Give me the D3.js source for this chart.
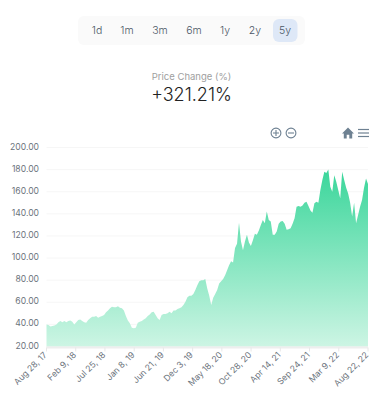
<!DOCTYPE html>
<html><head><meta charset="utf-8">
<script src="https://cdn.jsdelivr.net/npm/d3@7"></script>
<style>html,body{margin:0;padding:0;background:#fff}svg{display:block}text{font-family:Inter,"Noto Sans",sans-serif}</style>
</head><body><div id="chart"></div>
<script>
const ranges = ["1d","1m","3m","6m","1y","2y","5y"];
const activeRange = "5y";
const yTicks = [20,40,60,80,100,120,140,160,180,200];
const tickLabels = ["Aug 28, 17","Feb 9, 18","Jul 25, 18","Jan 8, 19","Jun 21, 19","Dec 3, 19","May 18, 20","Oct 28, 20","Apr 14, 21","Sep 24, 21","Mar 9, 22","Aug 22, 22"];
const prices = [40,39.5,38,38.5,39,40,42,43,42,43,42,43,43.5,42.5,40,42,44,44.5,43,42,41.5,44,45.5,47,47,47.5,46,47,47.5,48.5,51,52.5,54.5,56,55.5,55.5,56.5,55,54.5,52.5,47.5,43.5,41,37,36.5,37,41.5,42.5,43,44.5,45.5,47.5,49,51,51.5,48.5,45.5,44,48.5,49.5,49.5,50,51.5,50,52.5,52.5,54,54.5,55.5,57.5,60.5,64.5,66,66,67.5,71,75.5,79,80,80,81,72.5,66,57.5,64,67.5,71,77,79,81,84.5,89,93.5,97,96,109,113,132,115,107,115,121,114,111,116,122,121,125,130,134.5,131.5,142,134.5,133,121,121,124,131,133,133.5,131,125.5,126,127,131,136,146.5,147,146.5,147.5,150,151,147,143,141,149.5,151,150,161.5,170.5,178,177,180,164.5,160,175,169,161.5,154,178,170.5,163.5,158.5,150,137.5,150,131.5,139,146.5,152.5,163.5,172,167];

const W=383,H=398;
const m={l:46.5,r:368,t:147.5,b:346.5};
const svg=d3.select("#chart").append("svg").attr("width",W).attr("height",H);
const defs=svg.append("defs");
const grad=defs.append("linearGradient").attr("id","g").attr("gradientUnits","userSpaceOnUse").attr("x1",0).attr("x2",0).attr("y1",170).attr("y2",347);
grad.append("stop").attr("offset",0).attr("stop-color","#3bd69b");
grad.append("stop").attr("offset",1).attr("stop-color","#cdf5e4");

// range selector
svg.append("rect").attr("x",78).attr("y",16).attr("width",227).attr("height",29).attr("rx",6).attr("fill","#fafafa");
const btnX=d3.scaleOrdinal().domain(ranges).range([97,127,160,194,225,255,285]);
svg.append("rect").attr("x",273).attr("y",19).attr("width",24.5).attr("height",23).attr("rx",6).attr("fill","#dee8f7");
svg.selectAll("text.btn").data(ranges).join("text").attr("class","btn")
  .attr("x",d=>btnX(d)).attr("y",33.5).attr("text-anchor","middle").attr("font-size",10.5).attr("font-weight",300).attr("fill","#4a5665").text(d=>d);

svg.append("text").attr("x",191.5).attr("y",79.5).attr("text-anchor","middle").attr("font-size",9.5).attr("fill","#a0a0a0").text("Price Change (%)");
svg.append("text").attr("x",191.5).attr("y",101).attr("text-anchor","middle").attr("font-size",18).attr("font-weight",300).attr("fill","#222").text("+321.21%");

const x=d3.scaleLinear().domain([0,prices.length-1]).range([m.l,m.r]);
const y=d3.scaleLinear().domain([20,200]).range([m.b,m.t]);
const xTick=d3.scalePoint().domain(tickLabels).range([m.l,m.r]);

// grid
svg.append("g").selectAll("line").data(yTicks).join("line")
  .attr("x1",m.l).attr("x2",m.r).attr("y1",d=>y(d)).attr("y2",d=>y(d)).attr("stroke","#f6f6f6");

// area
svg.append("path").datum(prices).attr("fill","url(#g)")
  .attr("d",d3.area().x((d,i)=>x(i)).y0(y(20)).y1(d=>y(d)));

// y labels
svg.append("g").selectAll("text").data(yTicks).join("text")
  .attr("x",39).attr("y",d=>y(d)+2).attr("text-anchor","end").attr("font-size",8.6).attr("fill","#6b737c").text(d=>d.toFixed(2));

// x axis
const ax=svg.append("g").attr("transform",`translate(0,${m.b+1})`);
ax.append("line").attr("x1",m.l).attr("x2",m.r).attr("stroke","#eeeeee").attr("stroke-width",2);
ax.selectAll("line.t").data(tickLabels).join("line").attr("class","t")
  .attr("x1",d=>xTick(d)).attr("x2",d=>xTick(d)).attr("y1",0).attr("y2",4).attr("stroke","#e8e8e8");
ax.selectAll("text").data(tickLabels).join("text")
  .attr("text-anchor","end").attr("font-size",8.6).attr("fill","#6b737c")
  .attr("transform",d=>`translate(${xTick(d)+1},${8}) rotate(-45)`).text(d=>d);

// toolbar
const ic="#6e8192";
const tb=svg.append("g").attr("fill","none").attr("stroke",ic).attr("stroke-width",1.1);
tb.append("circle").attr("cx",276).attr("cy",133).attr("r",4.9);
tb.append("path").attr("d","M273 133H279M276 130V136");
tb.append("circle").attr("cx",291).attr("cy",133).attr("r",4.9);
tb.append("path").attr("d","M288 133H294");
svg.append("path").attr("fill",ic).attr("d","M348 127.5L354 133.5H352.2V138.5H349.3V134.8H346.7V138.5H343.8V133.5H342Z");
svg.append("g").attr("stroke",ic).attr("stroke-width",1.2).selectAll("line").data([129.5,133,136.5]).join("line")
  .attr("x1",358).attr("x2",369).attr("y1",d=>d).attr("y2",d=>d);
</script></body></html>
